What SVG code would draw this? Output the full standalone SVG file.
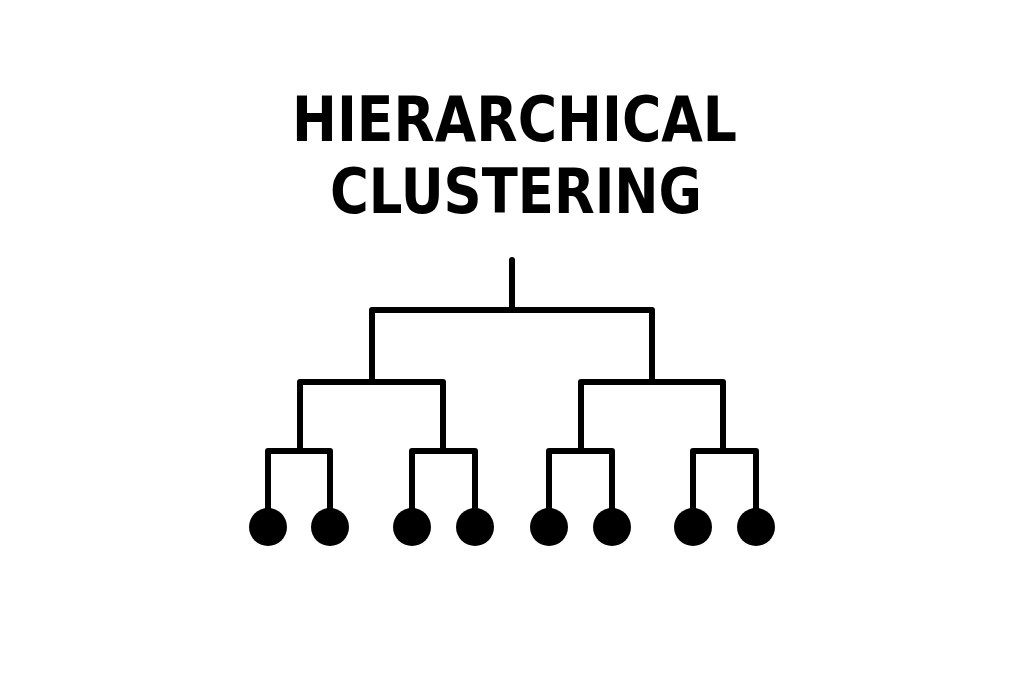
<svg xmlns="http://www.w3.org/2000/svg" width="1024" height="685" viewBox="0 0 1024 685">
<style>
.t{font-family:"DejaVu Sans","Liberation Sans",Arial,sans-serif;font-weight:bold;font-size:63px;fill:#000}
.c{fill:none;stroke:#000;stroke-width:6;stroke-linejoin:round;stroke-linecap:round}
.n{fill:#000}
</style>
<rect width="1024" height="685" fill="#fff"/>
<g id="title">
<text class="t" x="292" y="141" textLength="445" lengthAdjust="spacingAndGlyphs">HIERARCHICAL</text>
<text class="t" x="330" y="213" textLength="372" lengthAdjust="spacingAndGlyphs">CLUSTERING</text>
</g>
<g id="connectors">
<path class="c" d="M512 260V310"/>
<path class="c" d="M372 382V310H652V382"/>
<path class="c" d="M300 451V382H443V451"/>
<path class="c" d="M581 451V382H723V451"/>
<path class="c" d="M268 512V451H330V512"/>
<path class="c" d="M412 512V451H475V512"/>
<path class="c" d="M549 512V451H612V512"/>
<path class="c" d="M693 512V451H756V512"/>
</g>
<g id="leaf1"><circle class="n" cx="268" cy="527" r="19"/></g>
<g id="leaf2"><circle class="n" cx="330" cy="527" r="19"/></g>
<g id="leaf3"><circle class="n" cx="412" cy="527" r="19"/></g>
<g id="leaf4"><circle class="n" cx="475" cy="527" r="19"/></g>
<g id="leaf5"><circle class="n" cx="549" cy="527" r="19"/></g>
<g id="leaf6"><circle class="n" cx="612" cy="527" r="19"/></g>
<g id="leaf7"><circle class="n" cx="693" cy="527" r="19"/></g>
<g id="leaf8"><circle class="n" cx="756" cy="527" r="19"/></g>
</svg>
